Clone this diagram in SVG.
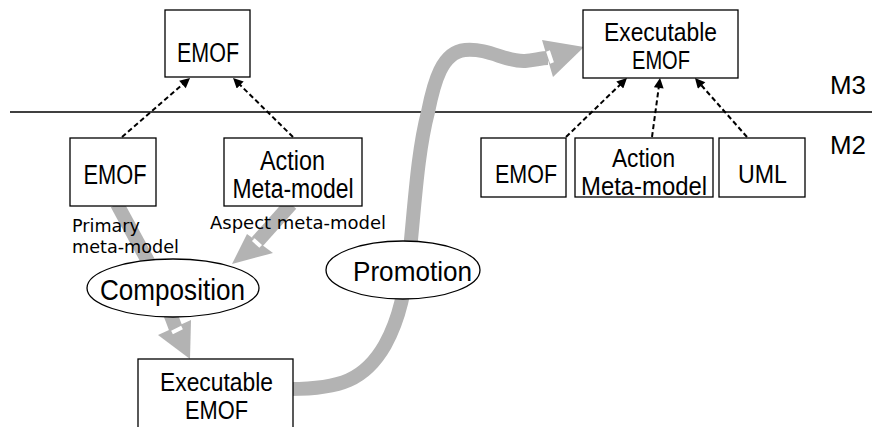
<svg xmlns="http://www.w3.org/2000/svg" width="872" height="427" viewBox="0 0 872 427">
<style>
.box{fill:#fff;stroke:#000;stroke-width:1.3}
.ell{fill:#fff;stroke:#000;stroke-width:1.3}
.t{font-family:"Liberation Sans",Arial,sans-serif;fill:#000;text-anchor:middle}
.lab{font-family:"DejaVu Sans",sans-serif;font-size:17px;fill:#000}
.dash{fill:none;stroke:#000;stroke-width:2;stroke-dasharray:5 3}
.thick{fill:none;stroke:#b3b3b3;stroke-width:14}
.head{fill:#b3b3b3}
.gap{stroke:#fff;stroke-width:4}
</style>
<defs>
<marker id="ah" viewBox="0 0 10 10" refX="6" refY="5" markerWidth="11" markerHeight="10" markerUnits="userSpaceOnUse" orient="auto"><path d="M0,0 L10,5 L0,10 z" fill="#000"/></marker>
</defs>
<rect width="872" height="427" fill="#fff"/>
<line x1="10" y1="112" x2="872" y2="112" stroke="#000" stroke-width="1.3"/>
<text class="t" x="848" y="94" font-size="25" textLength="36" lengthAdjust="spacingAndGlyphs">M3</text>
<text class="t" x="848" y="154" font-size="25" textLength="36" lengthAdjust="spacingAndGlyphs">M2</text>

<g id="connectors">
<line class="thick" x1="117" y1="204" x2="150" y2="265"/>
<line class="thick" x1="291" y1="204" x2="257" y2="242"/>
<polygon class="head" points="247,234 273,253 232,264"/>
<line class="gap" x1="253.3" y1="239.6" x2="260.7" y2="246.4"/>
<line class="thick" x1="165" y1="300" x2="176" y2="329"/>
<polygon class="head" points="158,335 191,320 190,359"/>
<line class="gap" x1="172" y1="332.5" x2="182" y2="327.5"/>
<path class="thick" d="M 290 389 C 340 389 365 380 385 345 C 400 318 405 290 410 250 C 415 200 418 150 428 112 C 434 82 442 52 465 50 C 490 48 505 62 525 61 C 535 60 542 58 548 58"/>
<polygon class="head" points="542,40 553,77 584,47"/>
<line class="gap" x1="548" y1="51" x2="552" y2="63"/>
<line class="dash" x1="122" y1="137" x2="187" y2="80.6" marker-end="url(#ah)"/>
<line class="dash" x1="293" y1="137" x2="235.9" y2="80.8" marker-end="url(#ah)"/>
<line class="dash" x1="566" y1="137" x2="624.1" y2="80.8" marker-end="url(#ah)"/>
<line class="dash" x1="652" y1="137" x2="659.5" y2="82" marker-end="url(#ah)"/>
<line class="dash" x1="747" y1="137" x2="697.6" y2="81" marker-end="url(#ah)"/>
</g>

<g id="emof-m3">
<rect class="box" x="165" y="10" width="85" height="67"/>
<text class="t" x="208" y="62" font-size="27" textLength="62" lengthAdjust="spacingAndGlyphs">EMOF</text>
</g>
<g id="emof-left">
<rect class="box" x="70" y="138" width="86" height="68"/>
<text class="t" x="115" y="184" font-size="27" textLength="63" lengthAdjust="spacingAndGlyphs">EMOF</text>
</g>
<g id="action-left">
<rect class="box" x="224" y="138" width="138" height="68"/>
<text class="t" x="292.5" y="170" font-size="27" textLength="65" lengthAdjust="spacingAndGlyphs">Action</text>
<text class="t" x="293" y="198" font-size="27" textLength="121" lengthAdjust="spacingAndGlyphs">Meta-model</text>
</g>
<g id="labels">
<text class="lab" x="72" y="232" textLength="68" lengthAdjust="spacingAndGlyphs">Primary</text>
<text class="lab" x="72" y="253" textLength="107" lengthAdjust="spacingAndGlyphs">meta-model</text>
<text class="lab" x="210" y="229" textLength="176" lengthAdjust="spacingAndGlyphs">Aspect meta-model</text>
</g>
<g id="composition">
<ellipse class="ell" cx="173" cy="288" rx="86" ry="29"/>
<text class="t" x="172.5" y="300" font-size="29" textLength="145" lengthAdjust="spacingAndGlyphs">Composition</text>
</g>
<g id="promotion">
<ellipse class="ell" cx="403" cy="270" rx="77" ry="29"/>
<text class="t" x="412.5" y="281" font-size="28" textLength="119" lengthAdjust="spacingAndGlyphs">Promotion</text>
</g>
<g id="exec-bottom">
<rect class="box" x="138" y="359" width="155" height="80"/>
<text class="t" x="216.5" y="391" font-size="26" textLength="113" lengthAdjust="spacingAndGlyphs">Executable</text>
<text class="t" x="216.5" y="419" font-size="26" textLength="63" lengthAdjust="spacingAndGlyphs">EMOF</text>
</g>
<g id="exec-top">
<rect class="box" x="583" y="10" width="155" height="68"/>
<text class="t" x="660.5" y="41" font-size="25" textLength="113" lengthAdjust="spacingAndGlyphs">Executable</text>
<text class="t" x="661" y="69" font-size="25" textLength="58" lengthAdjust="spacingAndGlyphs">EMOF</text>
</g>
<g id="emof-right">
<rect class="box" x="481" y="138" width="85" height="59"/>
<text class="t" x="526" y="183" font-size="26" textLength="62" lengthAdjust="spacingAndGlyphs">EMOF</text>
</g>
<g id="action-right">
<rect class="box" x="575" y="138" width="138" height="59"/>
<text class="t" x="643.5" y="167" font-size="26" textLength="63" lengthAdjust="spacingAndGlyphs">Action</text>
<text class="t" x="644" y="195" font-size="26" textLength="126" lengthAdjust="spacingAndGlyphs">Meta-model</text>
</g>
<g id="uml">
<rect class="box" x="719" y="138" width="86" height="59"/>
<text class="t" x="762.5" y="183" font-size="26" textLength="49" lengthAdjust="spacingAndGlyphs">UML</text>
</g>
</svg>
